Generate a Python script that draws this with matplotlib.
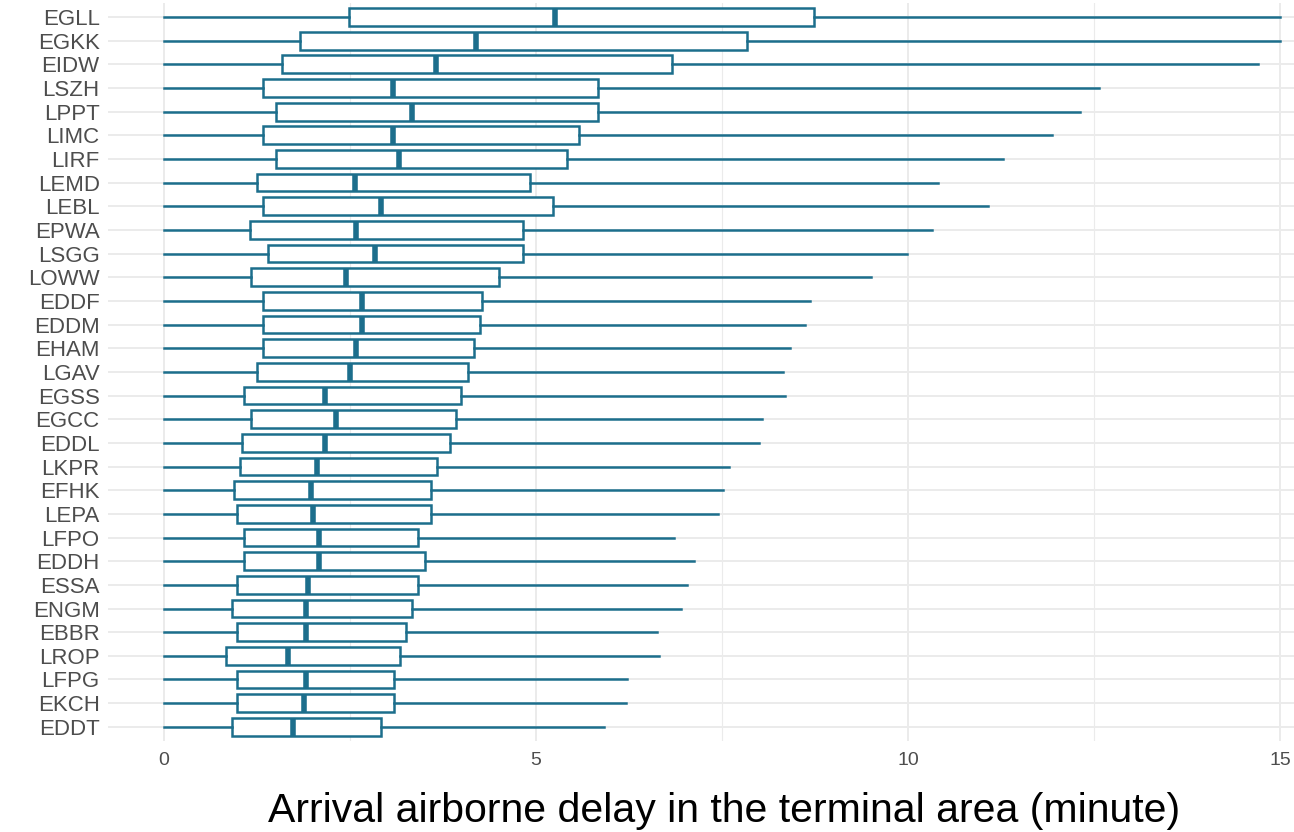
import matplotlib.pyplot as plt
import numpy as np

airports = ["EGLL", "EGKK", "EIDW", "LSZH", "LPPT", "LIMC", "LIRF", "LEMD", "LEBL", "EPWA",
            "LSGG", "LOWW", "EDDF", "EDDM", "EHAM", "LGAV", "EGSS", "EGCC", "EDDL", "LKPR",
            "EFHK", "LEPA", "LFPO", "EDDH", "ESSA", "ENGM", "EBBR", "LROP", "LFPG", "EKCH", "EDDT"]
whislo = [0.0] * 31
q1 = [2.49, 1.83, 1.59, 1.33, 1.51, 1.33, 1.51, 1.25, 1.33, 1.16,
      1.40, 1.17, 1.33, 1.33, 1.33, 1.25, 1.08, 1.17, 1.05, 1.03,
      0.94, 0.98, 1.08, 1.08, 0.99, 0.91, 0.99, 0.83, 0.99, 0.99, 0.91]
med = [5.26, 4.19, 3.66, 3.08, 3.33, 3.08, 3.16, 2.57, 2.92, 2.58,
       2.84, 2.45, 2.66, 2.66, 2.58, 2.50, 2.16, 2.31, 2.16, 2.06,
       1.98, 2.00, 2.08, 2.08, 1.94, 1.91, 1.91, 1.67, 1.91, 1.88, 1.73]
q3 = [8.74, 7.84, 6.83, 5.83, 5.83, 5.58, 5.42, 4.92, 5.23, 4.83,
      4.83, 4.50, 4.27, 4.25, 4.17, 4.09, 3.99, 3.92, 3.84, 3.67,
      3.59, 3.59, 3.41, 3.51, 3.41, 3.33, 3.25, 3.17, 3.09, 3.09, 2.92]
whishi = [15.0, 15.0, 14.70, 12.57, 12.31, 11.94, 11.28, 10.40, 11.08, 10.32,
          9.99, 9.50, 8.68, 8.62, 8.41, 8.32, 8.35, 8.04, 8.00, 7.59,
          7.51, 7.45, 6.85, 7.12, 7.03, 6.95, 6.63, 6.65, 6.22, 6.21, 5.91]

col = "#1c6e8c"
plt.rcParams['font.family'] = ['Liberation Sans', 'DejaVu Sans']

fig = plt.figure(figsize=(12.94, 8.32), dpi=100)
ax = fig.add_axes([108 / 1294, 1 - 741 / 832, (1336 - 108) / 1294, (741 - 2.8) / 832])

stats = []
for i in range(len(airports)):
    stats.append({'label': airports[i], 'whislo': whislo[i], 'q1': q1[i], 'med': med[i],
                  'q3': q3[i], 'whishi': whishi[i], 'fliers': []})

pos = np.arange(1, len(airports) + 1)
ax.bxp(stats, positions=pos, vert=False, widths=0.75, showcaps=False, showfliers=False,
       patch_artist=True,
       boxprops=dict(facecolor='white', edgecolor=col, linewidth=1.8),
       whiskerprops=dict(color=col, linewidth=1.8),
       medianprops=dict(color=col, linewidth=4, solid_capstyle='butt'))

ax.set_xlim(-0.75, 15.75)
ax.set_ylim(31.6, 0.4)
ax.set_xticks([0, 5, 10, 15])
ax.set_xticklabels(["0", "5", "10", "15"])
ax.set_xticks([2.5, 7.5, 12.5], minor=True)
ax.set_yticks(pos)
ax.set_yticklabels(airports)
ax.tick_params(axis='y', length=0, pad=6, labelsize=16, labelcolor='#4d4d4d')
ax.tick_params(axis='x', which='both', length=0, pad=8, labelsize=14, labelcolor='#4d4d4d')
for s in ax.spines.values():
    s.set_visible(False)
ax.grid(True, which='major', color='#ebebeb', linewidth=1.4)
ax.grid(True, which='minor', axis='x', color='#ebebeb', linewidth=0.8)
ax.set_axisbelow(True)

fig.text(724 / 1294, 1 - 822 / 832, "Arrival airborne delay in the terminal area (minute)",
         ha='center', va='baseline', fontsize=29.5, color='black')

fig.savefig('out.png', dpi=100)
